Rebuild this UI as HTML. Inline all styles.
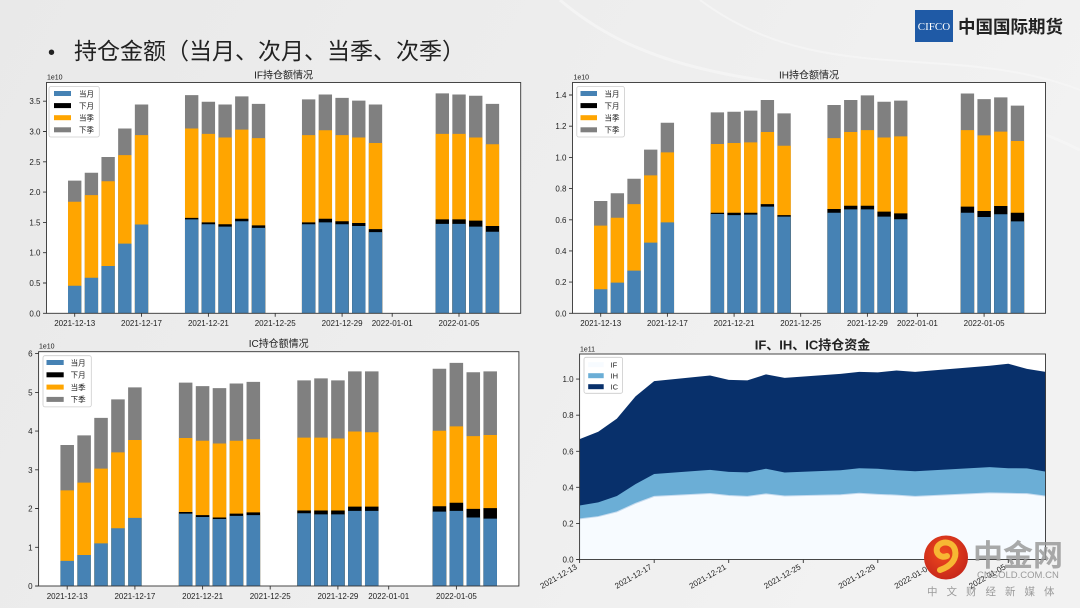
<!DOCTYPE html>
<html><head><meta charset="utf-8"><style>
html,body{margin:0;padding:0;width:1080px;height:608px;overflow:hidden;background:#ededed}
svg{display:block}
text{font-family:"Liberation Sans","Noto Sans CJK SC",sans-serif;fill:#222}
.t{font-size:8px}
.lg{font-size:7.5px}
.ti{font-size:10px}
</style></head><body>
<svg width="1080" height="608" viewBox="0 0 1080 608" xmlns="http://www.w3.org/2000/svg">
<defs>
<linearGradient id="bg" x1="0" y1="0" x2="1" y2="0.3">
<stop offset="0" stop-color="#e9e9e9"/><stop offset="0.6" stop-color="#eeeeee"/><stop offset="1" stop-color="#f2f2f2"/>
</linearGradient>
<radialGradient id="rc" cx="0.45" cy="0.4" r="0.6">
<stop offset="0" stop-color="#f04a1e"/><stop offset="1" stop-color="#c8281a"/>
</radialGradient>
</defs>
<rect width="1080" height="608" fill="url(#bg)"/>
<path d="M560 0 C700 120 900 60 1080 150" stroke="#f7f7f7" stroke-width="3" fill="none" opacity="0.7"/>
<path d="M700 0 C820 90 950 40 1080 90" stroke="#f7f7f7" stroke-width="2" fill="none" opacity="0.7"/>

<!-- Header -->
<text x="48" y="59" style="font-size:20px;fill:#222">•</text>
<text x="74" y="59" style="font-size:23px;fill:#222;font-family:'Noto Sans CJK SC',sans-serif">持仓金额（当月、次月、当季、次季）</text>

<!-- Logo -->
<rect x="915" y="10" width="38" height="32" fill="#1f5aa6"/>
<text x="934" y="30" text-anchor="middle" style="font-family:'Liberation Serif',serif;font-size:11px;fill:#fff">CIFCO</text>
<text x="958" y="33" style="font-size:17.5px;font-weight:bold;fill:#222;font-family:'Noto Sans CJK SC',sans-serif">中国国际期货</text>

<!-- ================= TL: IF ================= -->
<rect x="46.5" y="82.5" width="474.2" height="230.8" fill="#fff"/>
<g transform="translate(74.7,313.3) scale(16.71,-60.6)">
<path fill="#808080" d="M-.4 0h.8v2.19h-.8zM.6 0h.8v2.32h-.8zM1.6 0h.8v2.58h-.8zM2.6 0h.8v3.05h-.8zM3.6 0h.8v3.445h-.8zM6.6 0h.8v3.6h-.8zM7.6 0h.8v3.49h-.8zM8.6 0h.8v3.445h-.8zM9.6 0h.8v3.58h-.8zM10.6 0h.8v3.455h-.8zM13.6 0h.8v3.53h-.8zM14.6 0h.8v3.61h-.8zM15.6 0h.8v3.555h-.8zM16.6 0h.8v3.51h-.8zM17.6 0h.8v3.445h-.8zM21.6 0h.8v3.63h-.8zM22.6 0h.8v3.61h-.8zM23.6 0h.8v3.59h-.8zM24.6 0h.8v3.455h-.8z"/>
<path fill="#ffa500" d="M-.4 0h.8v1.84h-.8zM.6 0h.8v1.95h-.8zM1.6 0h.8v2.18h-.8zM2.6 0h.8v2.61h-.8zM3.6 0h.8v2.94h-.8zM6.6 0h.8v3.05h-.8zM7.6 0h.8v2.96h-.8zM8.6 0h.8v2.9h-.8zM9.6 0h.8v3.03h-.8zM10.6 0h.8v2.89h-.8zM13.6 0h.8v2.94h-.8zM14.6 0h.8v3.02h-.8zM15.6 0h.8v2.94h-.8zM16.6 0h.8v2.9h-.8zM17.6 0h.8v2.81h-.8zM21.6 0h.8v2.96h-.8zM22.6 0h.8v2.96h-.8zM23.6 0h.8v2.9h-.8zM24.6 0h.8v2.79h-.8z"/>
<path fill="#000" d="M6.6 0h.8v1.575h-.8zM7.6 0h.8v1.5h-.8zM8.6 0h.8v1.47h-.8zM9.6 0h.8v1.56h-.8zM10.6 0h.8v1.45h-.8zM13.6 0h.8v1.5h-.8zM14.6 0h.8v1.56h-.8zM15.6 0h.8v1.52h-.8zM16.6 0h.8v1.49h-.8zM17.6 0h.8v1.39h-.8zM21.6 0h.8v1.55h-.8zM22.6 0h.8v1.55h-.8zM23.6 0h.8v1.53h-.8zM24.6 0h.8v1.44h-.8z"/>
<path fill="#4682b4" d="M-.4 0h.8v.455h-.8zM.6 0h.8v.587h-.8zM1.6 0h.8v.78h-.8zM2.6 0h.8v1.15h-.8zM3.6 0h.8v1.465h-.8zM6.6 0h.8v1.55h-.8zM7.6 0h.8v1.47h-.8zM8.6 0h.8v1.43h-.8zM9.6 0h.8v1.52h-.8zM10.6 0h.8v1.41h-.8zM13.6 0h.8v1.47h-.8zM14.6 0h.8v1.5h-.8zM15.6 0h.8v1.47h-.8zM16.6 0h.8v1.44h-.8zM17.6 0h.8v1.34h-.8zM21.6 0h.8v1.475h-.8zM22.6 0h.8v1.475h-.8zM23.6 0h.8v1.43h-.8zM24.6 0h.8v1.345h-.8z"/>
</g>
<rect x="46.5" y="82.5" width="474.2" height="230.8" fill="none" stroke="#333" stroke-width="0.9"/>
<path stroke="#333" stroke-width="0.9" d="M43 313.3h3.5M43 283h3.5M43 252.7h3.5M43 222.4h3.5M43 192.1h3.5M43 161.8h3.5M43 131.5h3.5M43 101.2h3.5M74.7 313.3v3.5M141.5 313.3v3.5M208.4 313.3v3.5M275.2 313.3v3.5M342.1 313.3v3.5M392.2 313.3v3.5M459 313.3v3.5"/>
<g class="t" text-anchor="end">
<text x="40.5" y="316.3">0.0</text><text x="40.5" y="286">0.5</text><text x="40.5" y="255.7">1.0</text><text x="40.5" y="225.4">1.5</text><text x="40.5" y="195.1">2.0</text><text x="40.5" y="164.8">2.5</text><text x="40.5" y="134.5">3.0</text><text x="40.5" y="104.2">3.5</text>
</g>
<g class="t" text-anchor="middle">
<text x="74.7" y="326">2021-12-13</text><text x="141.5" y="326">2021-12-17</text><text x="208.4" y="326">2021-12-21</text><text x="275.2" y="326">2021-12-25</text><text x="342.1" y="326">2021-12-29</text><text x="392.2" y="326">2022-01-01</text><text x="459" y="326">2022-01-05</text>
</g>
<text x="47" y="79.5" style="font-size:7px">1e10</text>
<text x="283.6" y="78.5" text-anchor="middle" class="ti">IF持仓额情况</text>
<rect x="49" y="86.5" width="50.3" height="50.5" rx="2" fill="#fff" fill-opacity="0.85" stroke="#cccccc" stroke-width="0.8"/>
<rect x="54" y="91" width="17" height="5" fill="#4682b4"/><rect x="54" y="103.1" width="17" height="5" fill="#000"/><rect x="54" y="115.2" width="17" height="5" fill="#ffa500"/><rect x="54" y="127.3" width="17" height="5" fill="#808080"/>
<g class="lg"><text x="79" y="96.3">当月</text><text x="79" y="108.4">下月</text><text x="79" y="120.5">当季</text><text x="79" y="132.6">下季</text></g>

<!-- ================= TR: IH ================= -->
<rect x="572.5" y="82.5" width="473" height="230.8" fill="#fff"/>
<g transform="translate(600.7,313.3) scale(16.67,-155.9)">
<path fill="#808080" d="M-.4 0h.8v.72h-.8zM.6 0h.8v.77h-.8zM1.6 0h.8v.863h-.8zM2.6 0h.8v1.05h-.8zM3.6 0h.8v1.222h-.8zM6.6 0h.8v1.289h-.8zM7.6 0h.8v1.293h-.8zM8.6 0h.8v1.3h-.8zM9.6 0h.8v1.368h-.8zM10.6 0h.8v1.282h-.8zM13.6 0h.8v1.336h-.8zM14.6 0h.8v1.368h-.8zM15.6 0h.8v1.398h-.8zM16.6 0h.8v1.357h-.8zM17.6 0h.8v1.364h-.8zM21.6 0h.8v1.41h-.8zM22.6 0h.8v1.374h-.8zM23.6 0h.8v1.385h-.8zM24.6 0h.8v1.332h-.8z"/>
<path fill="#ffa500" d="M-.4 0h.8v.562h-.8zM.6 0h.8v.613h-.8zM1.6 0h.8v.7h-.8zM2.6 0h.8v.885h-.8zM3.6 0h.8v1.032h-.8zM6.6 0h.8v1.086h-.8zM7.6 0h.8v1.092h-.8zM8.6 0h.8v1.096h-.8zM9.6 0h.8v1.163h-.8zM10.6 0h.8v1.075h-.8zM13.6 0h.8v1.124h-.8zM14.6 0h.8v1.163h-.8zM15.6 0h.8v1.175h-.8zM16.6 0h.8v1.128h-.8zM17.6 0h.8v1.135h-.8zM21.6 0h.8v1.175h-.8zM22.6 0h.8v1.141h-.8zM23.6 0h.8v1.165h-.8zM24.6 0h.8v1.105h-.8z"/>
<path fill="#000" d="M6.6 0h.8v.645h-.8zM7.6 0h.8v.645h-.8zM8.6 0h.8v.645h-.8zM9.6 0h.8v.7h-.8zM10.6 0h.8v.63h-.8zM13.6 0h.8v.669h-.8zM14.6 0h.8v.69h-.8zM15.6 0h.8v.69h-.8zM16.6 0h.8v.652h-.8zM17.6 0h.8v.641h-.8zM21.6 0h.8v.684h-.8zM22.6 0h.8v.656h-.8zM23.6 0h.8v.688h-.8zM24.6 0h.8v.645h-.8z"/>
<path fill="#4682b4" d="M-.4 0h.8v.154h-.8zM.6 0h.8v.197h-.8zM1.6 0h.8v.274h-.8zM2.6 0h.8v.453h-.8zM3.6 0h.8v.583h-.8zM6.6 0h.8v.637h-.8zM7.6 0h.8v.63h-.8zM8.6 0h.8v.633h-.8zM9.6 0h.8v.684h-.8zM10.6 0h.8v.62h-.8zM13.6 0h.8v.645h-.8zM14.6 0h.8v.667h-.8zM15.6 0h.8v.667h-.8zM16.6 0h.8v.62h-.8zM17.6 0h.8v.603h-.8zM21.6 0h.8v.645h-.8zM22.6 0h.8v.618h-.8zM23.6 0h.8v.635h-.8zM24.6 0h.8v.59h-.8z"/>
</g>
<rect x="572.5" y="82.5" width="473" height="230.8" fill="none" stroke="#333" stroke-width="0.9"/>
<path stroke="#333" stroke-width="0.9" d="M569 313.3h3.5M569 282.1h3.5M569 250.9h3.5M569 219.8h3.5M569 188.6h3.5M569 157.4h3.5M569 126.2h3.5M569 95h3.5M600.7 313.3v3.5M667.4 313.3v3.5M734.1 313.3v3.5M800.7 313.3v3.5M867.4 313.3v3.5M917.4 313.3v3.5M984.1 313.3v3.5"/>
<g class="t" text-anchor="end">
<text x="566.5" y="316.3">0.0</text><text x="566.5" y="285.1">0.2</text><text x="566.5" y="253.9">0.4</text><text x="566.5" y="222.8">0.6</text><text x="566.5" y="191.6">0.8</text><text x="566.5" y="160.4">1.0</text><text x="566.5" y="129.2">1.2</text><text x="566.5" y="98">1.4</text>
</g>
<g class="t" text-anchor="middle">
<text x="600.7" y="326">2021-12-13</text><text x="667.4" y="326">2021-12-17</text><text x="734.1" y="326">2021-12-21</text><text x="800.7" y="326">2021-12-25</text><text x="867.4" y="326">2021-12-29</text><text x="917.4" y="326">2022-01-01</text><text x="984.1" y="326">2022-01-05</text>
</g>
<text x="573.5" y="79.5" style="font-size:7px">1e10</text>
<text x="809" y="78.5" text-anchor="middle" class="ti">IH持仓额情况</text>
<rect x="576.8" y="86.5" width="47.6" height="50.5" rx="2" fill="#fff" fill-opacity="0.85" stroke="#cccccc" stroke-width="0.8"/>
<rect x="580.5" y="91" width="16.5" height="5" fill="#4682b4"/><rect x="580.5" y="103.1" width="16.5" height="5" fill="#000"/><rect x="580.5" y="115.2" width="16.5" height="5" fill="#ffa500"/><rect x="580.5" y="127.3" width="16.5" height="5" fill="#808080"/>
<g class="lg"><text x="604.5" y="96.3">当月</text><text x="604.5" y="108.4">下月</text><text x="604.5" y="120.5">当季</text><text x="604.5" y="132.6">下季</text></g>

<!-- ================= BL: IC ================= -->
<rect x="38.6" y="351.7" width="480.3" height="234.3" fill="#fff"/>
<g transform="translate(67.2,586) scale(16.92,-38.73)">
<path fill="#808080" d="M-.4 0h.8v3.64h-.8zM.6 0h.8v3.89h-.8zM1.6 0h.8v4.34h-.8zM2.6 0h.8v4.82h-.8zM3.6 0h.8v5.13h-.8zM6.6 0h.8v5.25h-.8zM7.6 0h.8v5.16h-.8zM8.6 0h.8v5.11h-.8zM9.6 0h.8v5.23h-.8zM10.6 0h.8v5.27h-.8zM13.6 0h.8v5.31h-.8zM14.6 0h.8v5.36h-.8zM15.6 0h.8v5.31h-.8zM16.6 0h.8v5.54h-.8zM17.6 0h.8v5.54h-.8zM21.6 0h.8v5.61h-.8zM22.6 0h.8v5.76h-.8zM23.6 0h.8v5.52h-.8zM24.6 0h.8v5.54h-.8z"/>
<path fill="#ffa500" d="M-.4 0h.8v2.47h-.8zM.6 0h.8v2.67h-.8zM1.6 0h.8v3.03h-.8zM2.6 0h.8v3.45h-.8zM3.6 0h.8v3.77h-.8zM6.6 0h.8v3.82h-.8zM7.6 0h.8v3.75h-.8zM8.6 0h.8v3.68h-.8zM9.6 0h.8v3.75h-.8zM10.6 0h.8v3.79h-.8zM13.6 0h.8v3.83h-.8zM14.6 0h.8v3.83h-.8zM15.6 0h.8v3.81h-.8zM16.6 0h.8v3.99h-.8zM17.6 0h.8v3.97h-.8zM21.6 0h.8v4.01h-.8zM22.6 0h.8v4.12h-.8zM23.6 0h.8v3.87h-.8zM24.6 0h.8v3.9h-.8z"/>
<path fill="#000" d="M6.6 0h.8v1.91h-.8zM7.6 0h.8v1.83h-.8zM8.6 0h.8v1.77h-.8zM9.6 0h.8v1.87h-.8zM10.6 0h.8v1.9h-.8zM13.6 0h.8v1.95h-.8zM14.6 0h.8v1.95h-.8zM15.6 0h.8v1.95h-.8zM16.6 0h.8v2.05h-.8zM17.6 0h.8v2.05h-.8zM21.6 0h.8v2.06h-.8zM22.6 0h.8v2.15h-.8zM23.6 0h.8v1.99h-.8zM24.6 0h.8v2.01h-.8z"/>
<path fill="#4682b4" d="M-.4 0h.8v.65h-.8zM.6 0h.8v.8h-.8zM1.6 0h.8v1.1h-.8zM2.6 0h.8v1.49h-.8zM3.6 0h.8v1.76h-.8zM6.6 0h.8v1.87h-.8zM7.6 0h.8v1.78h-.8zM8.6 0h.8v1.73h-.8zM9.6 0h.8v1.81h-.8zM10.6 0h.8v1.83h-.8zM13.6 0h.8v1.88h-.8zM14.6 0h.8v1.85h-.8zM15.6 0h.8v1.85h-.8zM16.6 0h.8v1.94h-.8zM17.6 0h.8v1.94h-.8zM21.6 0h.8v1.92h-.8zM22.6 0h.8v1.94h-.8zM23.6 0h.8v1.77h-.8zM24.6 0h.8v1.74h-.8z"/>
</g>
<rect x="38.6" y="351.7" width="480.3" height="234.3" fill="none" stroke="#333" stroke-width="0.9"/>
<path stroke="#333" stroke-width="0.9" d="M35.1 586h3.5M35.1 547.3h3.5M35.1 508.5h3.5M35.1 469.8h3.5M35.1 431.1h3.5M35.1 392.4h3.5M35.1 353.6h3.5M67.2 586v3.5M134.9 586v3.5M202.6 586v3.5M270.2 586v3.5M337.9 586v3.5M388.7 586v3.5M456.4 586v3.5"/>
<g class="t" text-anchor="end">
<text x="32.6" y="589">0</text><text x="32.6" y="550.3">1</text><text x="32.6" y="511.5">2</text><text x="32.6" y="472.8">3</text><text x="32.6" y="434.1">4</text><text x="32.6" y="395.4">5</text><text x="32.6" y="356.6">6</text>
</g>
<g class="t" text-anchor="middle">
<text x="67.2" y="599">2021-12-13</text><text x="134.9" y="599">2021-12-17</text><text x="202.6" y="599">2021-12-21</text><text x="270.2" y="599">2021-12-25</text><text x="337.9" y="599">2021-12-29</text><text x="388.7" y="599">2022-01-01</text><text x="456.4" y="599">2022-01-05</text>
</g>
<text x="39" y="348.5" style="font-size:7px">1e10</text>
<text x="278.7" y="347" text-anchor="middle" class="ti">IC持仓额情况</text>
<rect x="43" y="355.7" width="48.3" height="51.2" rx="2" fill="#fff" fill-opacity="0.85" stroke="#cccccc" stroke-width="0.8"/>
<rect x="46.5" y="360" width="17.2" height="5" fill="#4682b4"/><rect x="46.5" y="372.3" width="17.2" height="5" fill="#000"/><rect x="46.5" y="384.6" width="17.2" height="5" fill="#ffa500"/><rect x="46.5" y="396.9" width="17.2" height="5" fill="#808080"/>
<g class="lg"><text x="70.6" y="365.3">当月</text><text x="70.6" y="377.6">下月</text><text x="70.6" y="389.9">当季</text><text x="70.6" y="402.2">下季</text></g>

<!-- ================= BR: stackplot ================= -->
<rect x="579.6" y="354" width="465.9" height="205.5" fill="#fff"/>
<g transform="translate(579.6,559.5) scale(18.64,-180.4)">
<polygon fill="#08306b" points="0,.667 1,.708 2,.781 3,.904 4,.989 7,1.02 8,.996 9,.993 10,1.026 11,1.007 14,1.029 15,1.04 16,1.037 17,1.048 18,1.04 22,1.074 23,1.085 24,1.057 25,1.04 25,0 0,0"/>
<polygon fill="#6baed6" points="0,.299 1,.317 2,.352 3,.418 4,.474 7,.497 8,.486 9,.483 10,.503 11,.482 14,.495 15,.506 16,.503 17,.495 18,.489 22,.512 23,.506 24,.505 25,.487 25,0 0,0"/>
<polygon fill="#f7fbff" points="0,.225 1,.238 2,.264 3,.311 4,.35 7,.366 8,.355 9,.35 10,.364 11,.352 14,.359 15,.367 16,.361 17,.357 18,.35 22,.369 23,.367 24,.365 25,.351 25,0 0,0"/>
<polyline fill="none" stroke="#c6dbef" stroke-width="1" vector-effect="non-scaling-stroke" points="0,.225 1,.238 2,.264 3,.311 4,.35 7,.366 8,.355 9,.35 10,.364 11,.352 14,.359 15,.367 16,.361 17,.357 18,.35 22,.369 23,.367 24,.365 25,.351"/>
</g>
<rect x="579.6" y="354" width="465.9" height="205.5" fill="none" stroke="#333" stroke-width="0.9"/>
<path stroke="#333" stroke-width="0.9" d="M576.1 559.5h3.5M576.1 523.4h3.5M576.1 487.3h3.5M576.1 451.3h3.5M576.1 415.2h3.5M576.1 379.1h3.5M579.6 559.5v3.5M654.2 559.5v3.5M728.7 559.5v3.5M803.3 559.5v3.5M877.8 559.5v3.5M933.8 559.5v3.5M1008.3 559.5v3.5"/>
<g class="t" text-anchor="end">
<text x="573.6" y="562.5">0.0</text><text x="573.6" y="526.4">0.2</text><text x="573.6" y="490.3">0.4</text><text x="573.6" y="454.3">0.6</text><text x="573.6" y="418.2">0.8</text><text x="573.6" y="382.1">1.0</text>
</g>
<g class="t" text-anchor="end">
<text transform="translate(577.6,568.5) rotate(-30)">2021-12-13</text>
<text transform="translate(652.2,568.5) rotate(-30)">2021-12-17</text>
<text transform="translate(726.7,568.5) rotate(-30)">2021-12-21</text>
<text transform="translate(801.3,568.5) rotate(-30)">2021-12-25</text>
<text transform="translate(875.8,568.5) rotate(-30)">2021-12-29</text>
<text transform="translate(931.8,568.5) rotate(-30)">2022-01-01</text>
<text transform="translate(1006.3,568.5) rotate(-30)">2022-01-05</text>
</g>
<text x="580" y="351.5" style="font-size:7px">1e11</text>
<text x="812.5" y="349.5" text-anchor="middle" style="font-size:13px;font-weight:bold;fill:#222">IF、IH、IC持仓资金</text>
<rect x="584" y="357.3" width="38.6" height="36" rx="2" fill="#fff" fill-opacity="0.85" stroke="#cccccc" stroke-width="0.8"/>
<rect x="588.2" y="362.2" width="15.5" height="5" fill="#f7fbff"/><rect x="588.2" y="373.2" width="15.5" height="5" fill="#6baed6"/><rect x="588.2" y="384.2" width="15.5" height="5" fill="#08306b"/>
<g class="lg"><text x="610.6" y="367.5">IF</text><text x="610.6" y="378.5">IH</text><text x="610.6" y="389.5">IC</text></g>

<!-- Watermark -->
<circle cx="946" cy="557.5" r="22" fill="url(#rc)"/>
<path d="M940 570 C952 566 957 558 955 550 C953 542 943 540 938 546 C934 552 940 559 947 556" fill="none" stroke="#f7b733" stroke-width="6" stroke-linecap="round"/>
<text x="973" y="566" style="font-size:30px;font-weight:bold;fill:#9a9a9a;fill-opacity:0.85;font-family:'Noto Sans CJK SC',sans-serif">中金网</text>
<text x="977" y="578" style="font-size:9.5px;fill:#9a9a9a">CNGOLD.COM.CN</text>
<text x="927" y="595" style="font-size:10.5px;fill:#9a9a9a;letter-spacing:9px;font-family:'Noto Sans CJK SC',sans-serif">中文财经新媒体</text>
</svg>
</body></html>
